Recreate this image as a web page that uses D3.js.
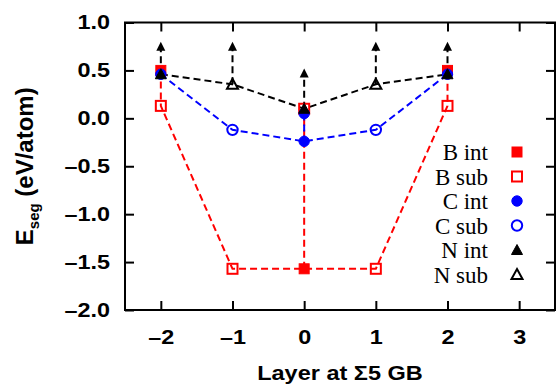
<!DOCTYPE html>
<html>
<head>
<meta charset="utf-8">
<script src="https://cdn.jsdelivr.net/npm/d3@7"></script>
<style>
  body { margin: 0; background: #fff; }
  .tick text { font-family: "Liberation Sans", Arial, sans-serif; font-weight: bold; font-size: 19.5px; fill: #000; }
  .tick line { stroke: #000; stroke-width: 2; }
</style>
</head>
<body>
<div id="chart"></div>
<script>
// values: [layer, E_seg]
var bInt = [[-2, 0.50], [0, -1.57], [2, 0.50]];
var bSub = [[-2, 0.13], [-1, -1.57], [0, 0.10], [1, -1.57], [2, 0.13]];
var cInt = [[-2, 0.46], [0, 0.05], [0, -0.24], [2, 0.46]];
var cSub = [[-1, -0.12], [1, -0.12]];
var nInt = [[-2, 0.46], [0, 0.10], [2, 0.46]];
var nSub = [[-1, 0.355], [1, 0.355]];
// arrows from the N points upward (tip value)
var arrowBase = [nInt[0], nSub[0], nInt[1], nSub[1], nInt[2]];
var arrowTip = [0.80, 0.80, 0.52, 0.80, 0.80];

var xTicks = [-2, -1, 0, 1, 2, 3];
var yTicks = [1.0, 0.5, 0.0, -0.5, -1.0, -1.5, -2.0];
var legendLabels = ["B int", "B sub", "C int", "C sub", "N int", "N sub"];

var width = 557, height = 384;
var margin = {left: 125, right: 2, top: 22.5, bottom: 74};
var w = width - margin.left - margin.right,
	h = height - margin.top - margin.bottom;

var red = "#ff0000", blue = "#0000ff", black = "#000";
var stretch = 1.2; // the tick labels of the original are set wide

var x = d3.scaleLinear().domain([-2.5, 3.5]).range([0, w]);
var y = d3.scaleLinear().domain([-2, 1]).range([h, 0]);

var svg = d3.select("#chart").append("svg")
		.attr("width", width)
		.attr("height", height)
	.append("g")
		.attr("transform", "translate(" + margin.left + "," + margin.top + ")");

function fmt(d) { return (d < 0 ? "\u2013" : "") + Math.abs(d); }
function fmtY(d) { return (d < 0 ? "\u2013" : "") + d3.format(".1f")(Math.abs(d)); }

svg.append("g")
		.attr("transform", "translate(0," + h + ")")
		.call(d3.axisBottom(x).tickValues(xTicks).tickFormat(fmt).tickSizeInner(-9).tickSizeOuter(0).tickPadding(20))
		.call(function(g) {
			g.select(".domain").remove();
			g.selectAll(".tick text").attr("transform", "scale(" + stretch + ",1)");
		});
svg.append("g")
		.call(d3.axisTop(x).tickValues(xTicks).tickFormat("").tickSizeInner(-9).tickSizeOuter(0))
		.call(function(g) { g.select(".domain").remove(); });
svg.append("g")
		.call(d3.axisLeft(y).tickValues(yTicks).tickFormat(fmtY).tickSizeInner(-9).tickSizeOuter(0).tickPadding(15))
		.call(function(g) {
			g.select(".domain").remove();
			g.selectAll(".tick text")
					.attr("x", -15 / stretch)
					.attr("transform", "scale(" + stretch + ",1)");
		});
svg.append("g")
		.attr("transform", "translate(" + w + ",0)")
		.call(d3.axisRight(y).tickValues(yTicks).tickFormat("").tickSizeInner(-9).tickSizeOuter(0))
		.call(function(g) { g.select(".domain").remove(); });

svg.append("rect")
		.attr("width", w)
		.attr("height", h)
		.attr("fill", "none")
		.attr("stroke", black)
		.attr("stroke-width", 2);

var line = d3.line()
		.x(function(d) { return x(d[0]); })
		.y(function(d) { return y(d[1]); });

function dashed(pts, color) {
	svg.append("path")
			.datum(pts)
			.attr("d", line)
			.attr("fill", "none")
			.attr("stroke", color)
			.attr("stroke-width", 2)
			.attr("stroke-dasharray", "7,4");
}

// arrows
arrowBase.forEach(function(p, i) {
	var tip = [p[0], arrowTip[i]];
	dashed([p, [p[0], arrowTip[i] - 0.06]], black);
	svg.append("path")
			.attr("d", "M0,0L-4.5,9L4.5,9Z")
			.attr("transform", "translate(" + x(tip[0]) + "," + y(tip[1]) + ")")
			.attr("fill", black);
});

dashed([bInt[0], bSub[0], bSub[1], bInt[1], bSub[3], bSub[4], bInt[2]], red);
dashed([bInt[1], bSub[2]], red);
dashed([cInt[0], cSub[0], cInt[2], cSub[1], cInt[3]], blue);
dashed([cInt[1], cInt[2]], blue);
dashed([nInt[0], nSub[0], nInt[1], nSub[1], nInt[2]], black);

var symbols = [
	{type: "square", fill: true, color: red},
	{type: "square", fill: false, color: red},
	{type: "circle", fill: true, color: blue},
	{type: "circle", fill: false, color: blue},
	{type: "triangle", fill: true, color: black},
	{type: "triangle", fill: false, color: black}
];

function marker(g, s) {
	var m;
	if (s.type === "square") m = g.append("rect").attr("x", -5).attr("y", -5).attr("width", 10).attr("height", 10);
	else if (s.type === "circle") m = g.append("circle").attr("r", 5.2);
	else m = g.append("path").attr("d", "M0,-5.5L5.5,4.5L-5.5,4.5Z");
	m.attr("fill", s.fill ? s.color : "none")
		.attr("stroke", s.color)
		.attr("stroke-width", s.fill ? 1 : 2);
}

[bInt, bSub, cInt, cSub, nInt, nSub].forEach(function(series, k) {
	svg.append("g").selectAll("g")
			.data(series)
		.enter().append("g")
			.attr("transform", function(d) { return "translate(" + x(d[0]) + "," + y(d[1]) + ")"; })
			.each(function() { marker(d3.select(this), symbols[k]); });
});

// legend
var legend = svg.append("g")
		.attr("transform", "translate(" + (488 - margin.left) + "," + (152 - margin.top) + ")");
legendLabels.forEach(function(t, i) {
	var row = legend.append("g").attr("transform", "translate(0," + i * 24.5 + ")");
	row.append("text")
			.attr("text-anchor", "end")
			.attr("dy", "0.35em")
			.style("font-family", "'Liberation Serif', 'Times New Roman', serif")
			.style("font-size", "23px")
			.text(t);
	var g = row.append("g").attr("transform", "translate(29,0)");
	marker(g, symbols[i]);
});

// axis titles
svg.append("text")
		.attr("transform", "translate(" + (w / 2) + "," + (380 - margin.top) + ") scale(1.12,1)")
		.attr("text-anchor", "middle")
		.style("font-family", "'Liberation Sans', Arial, sans-serif")
		.style("font-weight", "bold")
		.style("font-size", "21px")
		.text("Layer at \u03a35 GB");

var yl = svg.append("text")
		.attr("transform", "translate(" + (33 - margin.left) + "," + (h / 2) + ") rotate(-90)")
		.attr("text-anchor", "middle")
		.style("font-family", "'Liberation Sans', Arial, sans-serif")
		.style("font-weight", "bold")
		.style("font-size", "24px");
yl.append("tspan").text("E");
yl.append("tspan").attr("dy", 6).style("font-size", "15px").text("seg");
yl.append("tspan").attr("dy", -6).text(" (eV/atom)");
</script>
</body>
</html>
